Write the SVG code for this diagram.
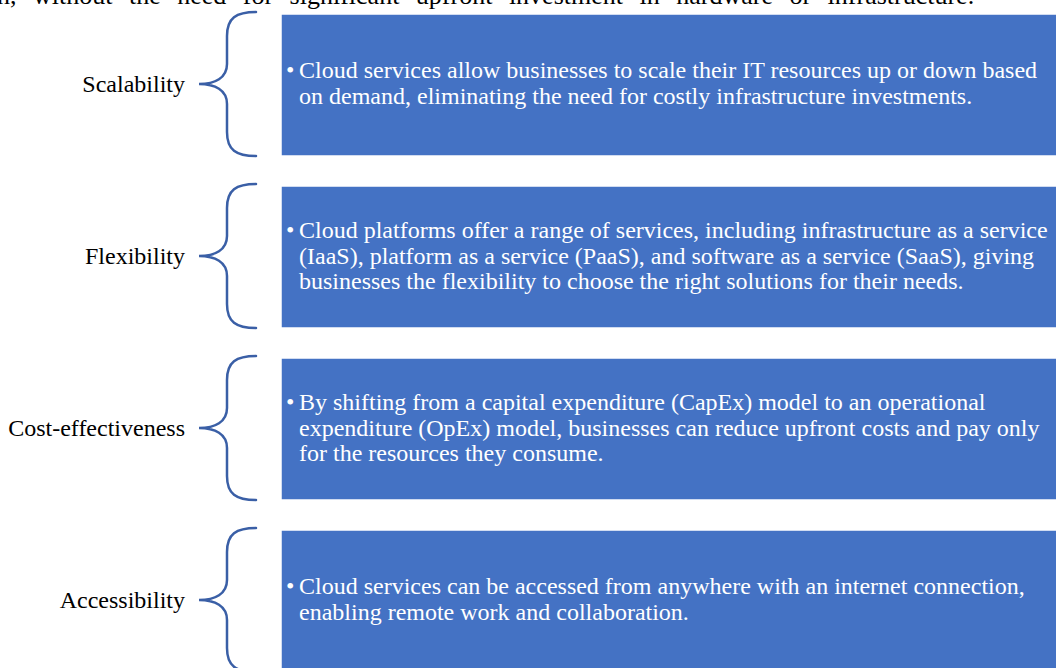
<svg xmlns="http://www.w3.org/2000/svg" width="1056" height="668" viewBox="0 0 1056 668">
<style>
.bg{fill:#ffffff}
.box{fill:#4472C4;stroke:#ffffff;stroke-width:1.5}
.brace{fill:none;stroke:#3A5FA6;stroke-width:2.5;stroke-linecap:round}
.lbl{font-family:"Liberation Serif","Times New Roman",serif;font-size:24px;fill:#000000;text-anchor:end}
.txt{font-family:"Liberation Serif","Times New Roman",serif;font-size:24px;fill:#ffffff}
.top{font-family:"Liberation Serif","Times New Roman",serif;font-size:26px;fill:#000000}
</style>
<rect class="bg" x="0" y="0" width="1056" height="668"/>
<text class="top" x="-3" y="4" word-spacing="10">n, without the need for significant upfront investment in hardware or infrastructure.</text>
<g id="connectors">
<path class="brace" d="M256,12 C236,12 227,18 227,36 L227,64 C227,78 215,84 199,84 C215,84 227,90 227,104 L227,132 C227,150 236,156 256,156"/>
<path class="brace" d="M256,184 C236,184 227,190 227,208 L227,236 C227,250 215,256 199,256 C215,256 227,262 227,276 L227,304 C227,322 236,328 256,328"/>
<path class="brace" d="M256,356 C236,356 227,362 227,380 L227,408 C227,422 215,428 199,428 C215,428 227,434 227,448 L227,476 C227,494 236,500 256,500"/>
<path class="brace" d="M256,528 C236,528 227,534 227,552 L227,580 C227,594 215,600 199,600 C215,600 227,606 227,620 L227,648 C227,666 236,672 256,672"/>
</g>
<g id="node-scalability">
<text class="lbl" x="185" y="92">Scalability</text>
<rect class="box" x="281" y="14" width="790" height="142"/>
<text class="txt" x="286" y="78" font-size="18">•</text>
<text class="txt" x="299" y="78">Cloud services allow businesses to scale their IT resources up or down based</text>
<text class="txt" x="299" y="104">on demand, eliminating the need for costly infrastructure investments.</text>
</g>
<g id="node-flexibility">
<text class="lbl" x="185" y="264">Flexibility</text>
<rect class="box" x="281" y="186" width="790" height="142"/>
<text class="txt" x="286" y="238" font-size="18">•</text>
<text class="txt" x="299" y="238">Cloud platforms offer a range of services, including infrastructure as a service</text>
<text class="txt" x="299" y="264">(IaaS), platform as a service (PaaS), and software as a service (SaaS), giving</text>
<text class="txt" x="299" y="289">businesses the flexibility to choose the right solutions for their needs.</text>
</g>
<g id="node-cost">
<text class="lbl" x="185" y="436">Cost-effectiveness</text>
<rect class="box" x="281" y="358" width="790" height="142"/>
<text class="txt" x="286" y="410" font-size="18">•</text>
<text class="txt" x="299" y="410">By shifting from a capital expenditure (CapEx) model to an operational</text>
<text class="txt" x="299" y="436">expenditure (OpEx) model, businesses can reduce upfront costs and pay only</text>
<text class="txt" x="299" y="461">for the resources they consume.</text>
</g>
<g id="node-accessibility">
<text class="lbl" x="185" y="608">Accessibility</text>
<rect class="box" x="281" y="530" width="790" height="142"/>
<text class="txt" x="286" y="594" font-size="18">•</text>
<text class="txt" x="299" y="594">Cloud services can be accessed from anywhere with an internet connection,</text>
<text class="txt" x="299" y="620">enabling remote work and collaboration.</text>
</g>
</svg>
